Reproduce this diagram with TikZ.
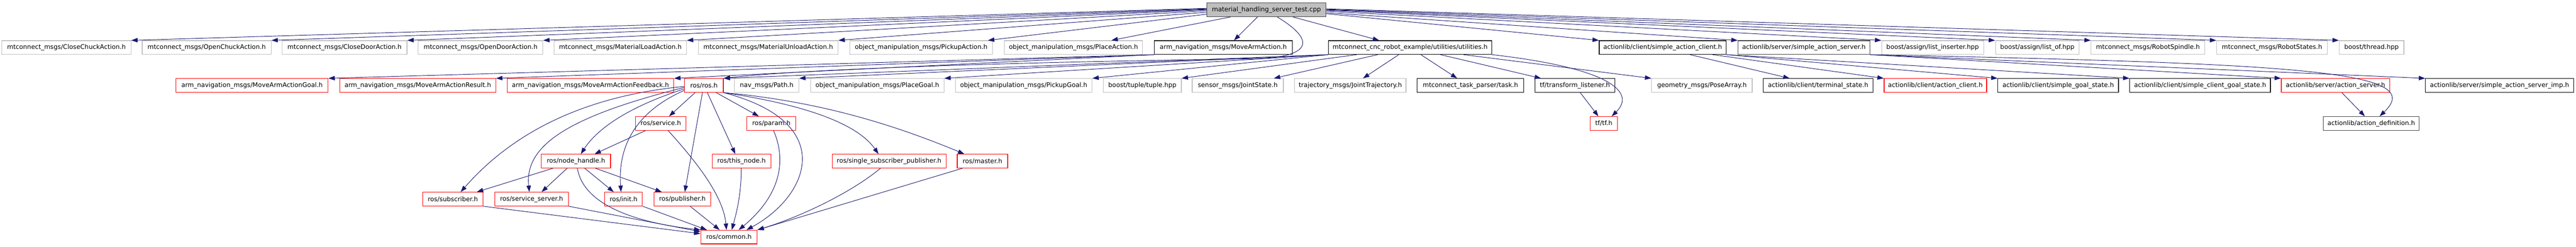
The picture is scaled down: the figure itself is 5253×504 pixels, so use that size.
\documentclass[tikz,border=0pt]{standalone}
\usepackage{fontspec}
\setmainfont{DejaVu Sans}
\usetikzlibrary{arrows.meta}
\definecolor{edgeblue}{HTML}{191970}
\definecolor{nodegray}{HTML}{BFBFBF}
\definecolor{rootfill}{HTML}{BFBFBF}
\definecolor{rootdraw}{HTML}{404040}
\definecolor{nodered}{HTML}{FF0000}
\tikzset{
  box/.style={rectangle, draw, line width=1.2pt, inner sep=0pt, minimum height=28pt, text=black, font=\fontsize{12.9}{15}\selectfont},
  grayb/.style={box, draw=nodegray},
  redb/.style={box, draw=nodered},
  blkb/.style={box, draw=black},
  rootb/.style={box, draw=rootdraw, fill=rootfill},
  edge/.style={draw=edgeblue, line width=1pt, -{Triangle[length=13pt,width=9pt]}}
}
\begin{document}
\begin{tikzpicture}[x=1pt,y=1pt]
\useasboundingbox (0,0) rectangle (5253,-504);
% root
\node[rootb, minimum width=243pt] (root) at (2582.5,-20) {material\_handling\_server\_test.cpp};
% row 1
\node[grayb, minimum width=263pt] (c1) at (135.5,-97) {mtconnect\_msgs/CloseChuckAction.h};
\node[grayb, minimum width=263pt] (c2) at (421.5,-97) {mtconnect\_msgs/OpenChuckAction.h};
\node[grayb, minimum width=255pt] (c3) at (702.5,-97) {mtconnect\_msgs/CloseDoorAction.h};
\node[grayb, minimum width=254pt] (c4) at (980,-97) {mtconnect\_msgs/OpenDoorAction.h};
\node[grayb, minimum width=270pt] (c5) at (1265,-97) {mtconnect\_msgs/MaterialLoadAction.h};
\node[grayb, minimum width=285pt] (c6) at (1566.5,-97) {mtconnect\_msgs/MaterialUnloadAction.h};
\node[grayb, minimum width=291pt] (c7) at (1878.5,-97) {object\_manipulation\_msgs/PickupAction.h};
\node[grayb, minimum width=282pt] (c8) at (2189,-97) {object\_manipulation\_msgs/PlaceAction.h};
\node[blkb, minimum width=281pt] (c9) at (2494.5,-97) {arm\_navigation\_msgs/MoveArmAction.h};
\node[blkb, minimum width=333pt] (c10) at (2875.5,-97) {mtconnect\_cnc\_robot\_example/utilities/utilities.h};
\node[blkb, minimum width=259pt] (c11) at (3390.5,-97) {actionlib/client/simple\_action\_client.h};
\node[box, draw=rootdraw, minimum width=269pt] (c12) at (3678.5,-97) {actionlib/server/simple\_action\_server.h};
\node[grayb, minimum width=208pt] (c13) at (3941,-97) {boost/assign/list\_inserter.hpp};
\node[grayb, minimum width=171pt] (c14) at (4154.5,-97) {boost/assign/list\_of.hpp};
\node[grayb, minimum width=232pt] (c15) at (4380,-97) {mtconnect\_msgs/RobotSpindle.h};
\node[grayb, minimum width=226pt] (c16) at (4633,-97) {mtconnect\_msgs/RobotStates.h};
\node[grayb, minimum width=132pt] (c17) at (4836,-97) {boost/thread.hpp};
% row 2
\node[redb, minimum width=310pt] (goal) at (514,-174.5) {arm\_navigation\_msgs/MoveArmActionGoal.h};
\node[redb, minimum width=318pt] (result) at (852,-174.5) {arm\_navigation\_msgs/MoveArmActionResult.h};
\node[redb, minimum width=340pt] (feedback) at (1204,-174.5) {arm\_navigation\_msgs/MoveArmActionFeedback.h};
\node[redb, minimum width=79pt] (rosh) at (1435.5,-174.5) {ros/ros.h};
\node[grayb, minimum width=131pt] (path) at (1563.5,-174.5) {nav\_msgs/Path.h};
\node[grayb, minimum width=272pt] (placegoal) at (1789,-174.5) {object\_manipulation\_msgs/PlaceGoal.h};
\node[grayb, minimum width=279pt] (pickupgoal) at (2087.5,-174.5) {object\_manipulation\_msgs/PickupGoal.h};
\node[grayb, minimum width=159pt] (tuple) at (2329.5,-174.5) {boost/tuple/tuple.hpp};
\node[grayb, minimum width=186pt] (jointstate) at (2524,-174.5) {sensor\_msgs/JointState.h};
\node[grayb, minimum width=227pt] (jointtraj) at (2753.5,-174.5) {trajectory\_msgs/JointTrajectory.h};
\node[blkb, minimum width=217pt] (task) at (2998.5,-174.5) {mtconnect\_task\_parser/task.h};
\node[blkb, minimum width=163pt] (tflistener) at (3211.5,-174.5) {tf/transform\_listener.h};
\node[grayb, minimum width=205pt] (posearray) at (3470.5,-174.5) {geometry\_msgs/PoseArray.h};
\node[blkb, minimum width=223pt] (terminal) at (3707.5,-174.5) {actionlib/client/terminal\_state.h};
\node[redb, minimum width=209pt] (actclient) at (3946.5,-174.5) {actionlib/client/action\_client.h};
\node[blkb, minimum width=246pt] (sgoalstate) at (4197,-174.5) {actionlib/client/simple\_goal\_state.h};
\node[blkb, minimum width=287pt] (scgoalstate) at (4486.5,-174.5) {actionlib/client/simple\_client\_goal\_state.h};
\node[redb, minimum width=221pt] (actserver) at (4762.5,-174.5) {actionlib/server/action\_server.h};
\node[blkb, minimum width=302pt] (sasimp) at (5097,-174.5) {actionlib/server/simple\_action\_server\_imp.h};
% row 3
\node[redb, minimum width=103pt] (service) at (1347.5,-252) {ros/service.h};
\node[redb, minimum width=100pt] (param) at (1573,-252) {ros/param.h};
\node[redb, minimum width=55pt] (tfh) at (3270.5,-252) {tf/tf.h};
\node[box, draw=rootdraw, minimum width=195pt] (actdef) at (4835.5,-252) {actionlib/action\_definition.h};
% row 4
\node[redb, minimum width=141pt] (nodehandle) at (1174.5,-329) {ros/node\_handle.h};
\node[redb, minimum width=120pt] (thisnode) at (1512,-329) {ros/this\_node.h};
\node[redb, minimum width=232pt] (ssp) at (1813,-329) {ros/single\_subscriber\_publisher.h};
\node[redb, minimum width=103pt] (master) at (2003.5,-329) {ros/master.h};
% row 5
\node[redb, minimum width=123pt] (subscriber) at (923.5,-406.5) {ros/subscriber.h};
\node[redb, minimum width=150pt] (srvserver) at (1084,-406.5) {ros/service\_server.h};
\node[redb, minimum width=77pt] (init) at (1271.5,-406.5) {ros/init.h};
\node[redb, minimum width=115pt] (publisher) at (1391.5,-406.5) {ros/publisher.h};
% row 6
\node[redb, minimum width=115pt] (common) at (1486.5,-484) {ros/common.h};

% root edges
\draw[edge] ([yshift=3pt]root.west) -- (c1.north east);
\draw[edge] ([yshift=2pt]root.west) -- (c2.north east);
\draw[edge] ([yshift=1pt]root.west) -- (c3.north east);
\draw[edge] (root.west) -- (c4.north east);
\draw[edge] ([yshift=-2pt]root.west) -- (c5.north east);
\draw[edge] ([yshift=-5pt]root.west) -- (c6.north east);
\draw[edge] ([yshift=-9pt]root.west) -- ([xshift=-10pt]c7.north east);
\draw[edge] ([xshift=49pt]root.south west) -- ([xshift=219pt]c8.north west);
\draw[edge] ([xshift=104pt]root.south west) -- ([xshift=163pt]c9.north west);
\draw[edge] ([xshift=176pt]root.south west) -- ([xshift=104pt]c10.north west);
\draw[edge] ([yshift=-8pt]root.east) -- (c11.north west);
\draw[edge] ([yshift=-6pt]root.east) -- (c12.north west);
\draw[edge] ([yshift=-3pt]root.east) -- (c13.north west);
\draw[edge] ([yshift=-1pt]root.east) -- (c14.north west);
\draw[edge] (root.east) -- (c15.north west);
\draw[edge] ([yshift=1pt]root.east) -- (c16.north west);
\draw[edge] ([yshift=2pt]root.east) -- (c17.north west);
\draw[edge] ([xshift=144pt]root.south west) .. controls (2680,-80) and (2680,-116) .. (2560,-120) .. controls (2100,-126) and (1650,-140) .. (rosh.north east);

% MoveArmAction edges
\draw[edge] (c9.south west) -- (goal.north east);
\draw[edge] (c9.south west) -- (result.north east);
\draw[edge] (c9.south west) -- (feedback.north east);

% utilities edges
\draw[edge] (c10.south west) -- (rosh.north east);
\draw[edge] (c10.south west) -- (path.north east);
\draw[edge] (c10.south west) -- (placegoal.north east);
\draw[edge] (c10.south west) -- (pickupgoal.north east);
\draw[edge] ([xshift=58pt]c10.south west) -- (tuple.north east);
\draw[edge] ([xshift=101pt]c10.south west) -- ([xshift=-20pt]jointstate.north east);
\draw[edge] ([xshift=144pt]c10.south west) -- ([xshift=140pt]jointtraj.north west);
\draw[edge] ([xshift=189pt]c10.south west) -- ([xshift=82pt]task.north west);
\draw[edge] ([xshift=229pt]c10.south west) -- ([xshift=13pt]tflistener.north west);
\draw[edge] ([xshift=276pt]c10.south west) -- (posearray.north west);
\draw[edge] (c10.south east) .. controls (3290,-140) and (3335,-190) .. ([xshift=-12pt]tfh.north east);
\draw[edge] ([xshift=93pt]tflistener.south west) -- ([xshift=17pt]tfh.north west);

% simple_action_client edges
\draw[edge] ([xshift=186pt]c11.south west) -- ([xshift=54pt]terminal.north west);
\draw[edge] ([xshift=232pt]c11.south west) -- (actclient.north west);
\draw[edge] (c11.south east) -- (sgoalstate.north west);
\draw[edge] (c11.south east) -- (scgoalstate.north west);

% simple_action_server edges
\draw[edge] (c12.south east) -- (actserver.north west);
\draw[edge] (c12.south east) -- (sasimp.north west);
\draw[edge] (c12.south east) .. controls (4700,-130) and (4950,-145) .. ([xshift=115pt]actdef.north west);
\draw[edge] ([xshift=124pt]actserver.south west) -- ([xshift=85pt]actdef.north west);

% ros/ros.h edges
\draw[edge] ([xshift=22pt]rosh.south west) -- ([xshift=69pt]service.north west);
\draw[edge] ([xshift=37pt]rosh.south west) -- ([xshift=63pt]publisher.north west);
\draw[edge] ([xshift=47pt]rosh.south west) -- ([xshift=48pt]thisnode.north west);
\draw[edge] ([xshift=65pt]rosh.south west) -- ([xshift=25pt]param.north west);
\draw[edge] (rosh.south east) .. controls (1710,-250) and (1650,-400) .. ([xshift=94pt]common.north west);
\draw[edge] (rosh.south east) .. controls (1650,-215) and (1750,-255) .. ([xshift=95pt]ssp.north west);
\draw[edge] (rosh.south east) .. controls (1650,-205) and (1800,-245) .. ([xshift=15pt]master.north west);
\draw[edge] ([yshift=-2pt]rosh.west) .. controls (1150,-200) and (1020,-300) .. ([xshift=78pt]subscriber.north west);
\draw[edge] ([yshift=-4pt]rosh.west) .. controls (1150,-240) and (1070,-300) .. ([xshift=71pt]srvserver.north west);
\draw[edge] ([yshift=-7pt]rosh.west) .. controls (1260,-225) and (1210,-275) .. ([xshift=81pt]nodehandle.north west);
\draw[edge] ([yshift=-10pt]rosh.west) .. controls (1270,-240) and (1262,-330) .. ([xshift=34pt]init.north west);

% service edges
\draw[edge] ([xshift=21pt]service.south west) -- ([xshift=109pt]nodehandle.north west);
\draw[edge] ([xshift=67pt]service.south west) .. controls (1420,-330) and (1475,-400) .. ([xshift=53pt]common.north west);

% node_handle edges
\draw[edge] ([xshift=24pt]nodehandle.south west) -- ([xshift=111pt]subscriber.north west);
\draw[edge] ([xshift=53pt]nodehandle.south west) -- ([xshift=96pt]srvserver.north west);
\draw[edge] ([xshift=89pt]nodehandle.south west) -- ([xshift=19pt]init.north west);
\draw[edge] ([xshift=111pt]nodehandle.south west) -- ([xshift=16pt]publisher.north west);
\draw[edge] ([xshift=74pt]nodehandle.south west) .. controls (1190,-420) and (1300,-455) .. (common.north west);

% into ros/common.h
\draw[edge] (subscriber.south east) -- ([yshift=7pt]common.west);
\draw[edge] (srvserver.south east) -- ([yshift=11pt]common.west);
\draw[edge] (init.south east) -- ([xshift=13pt]common.north west);
\draw[edge] ([xshift=74pt]publisher.south west) -- ([xshift=39pt]common.north west);
\draw[edge] ([xshift=60pt]thisnode.south west) .. controls (1512,-400) and (1500,-440) .. ([xshift=64pt]common.north west);
\draw[edge] ([xshift=55pt]param.south west) .. controls (1605,-330) and (1590,-400) .. ([xshift=78pt]common.north west);
\draw[edge] ([xshift=99pt]ssp.south west) .. controls (1740,-390) and (1640,-440) .. (common.north east);
\draw[edge] ([xshift=11pt]master.south west) -- (common.north east);
\end{tikzpicture}
\end{document}
